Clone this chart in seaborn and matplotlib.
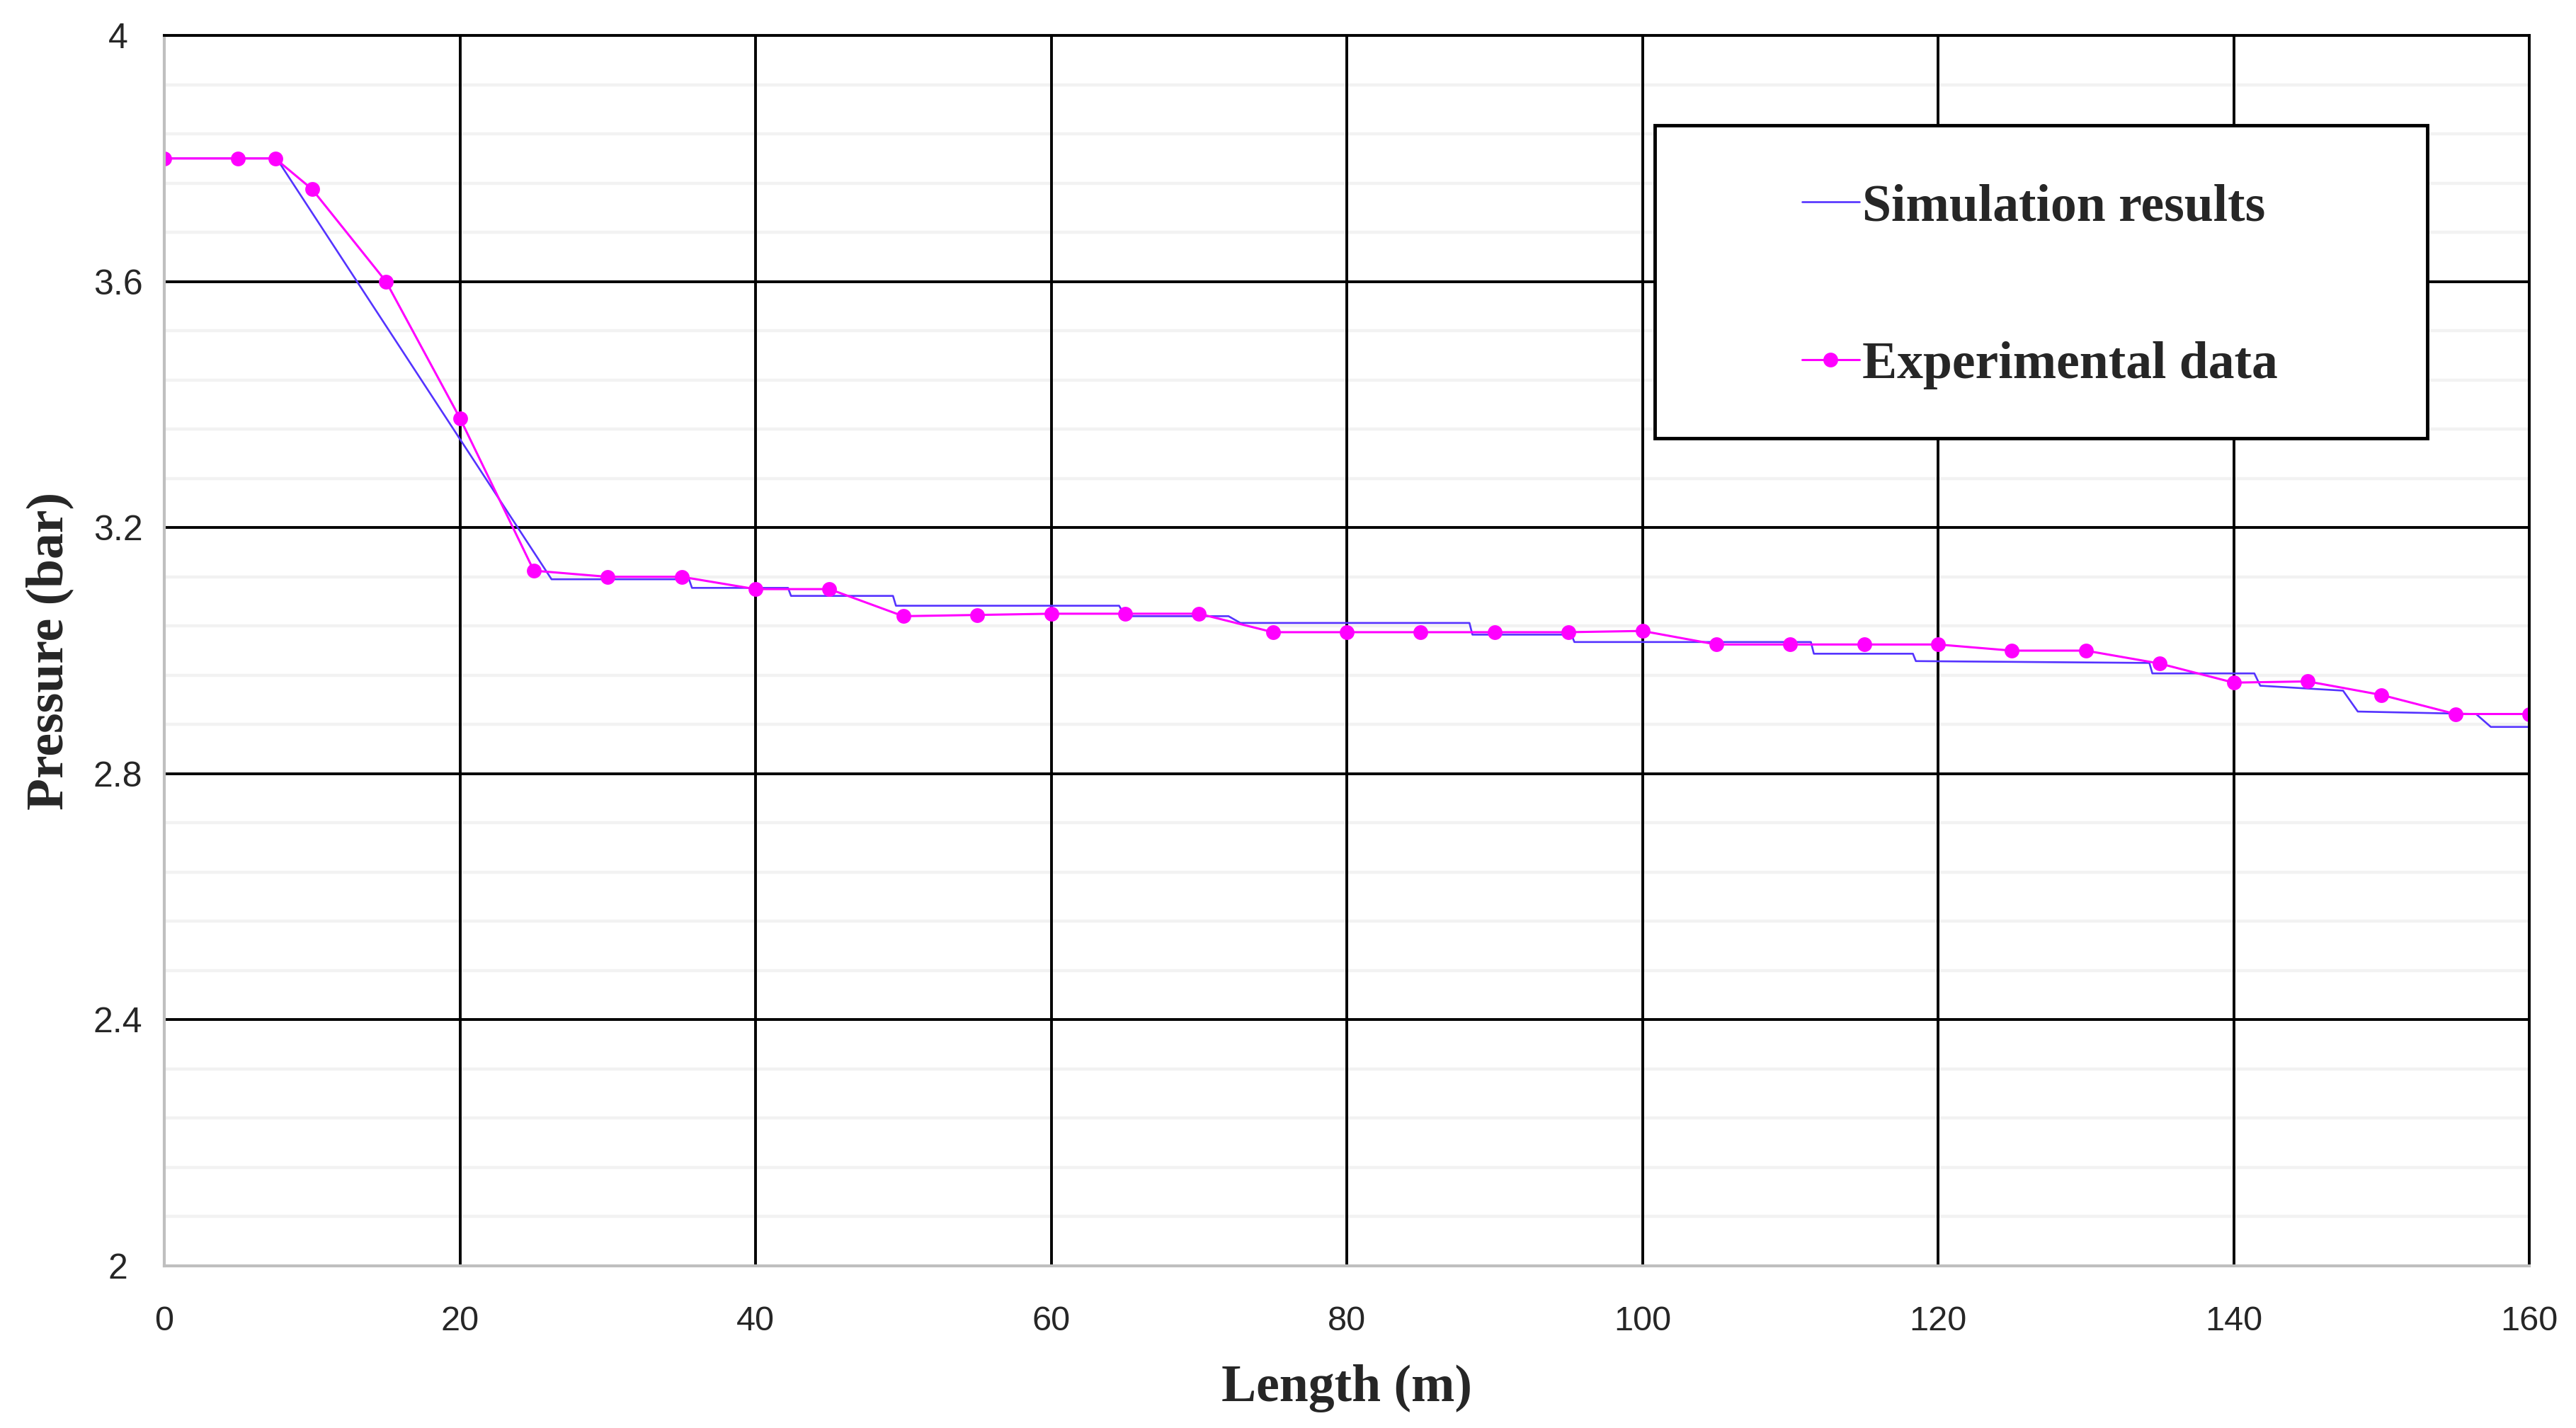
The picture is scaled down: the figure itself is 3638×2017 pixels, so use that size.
import pandas as pd
import seaborn as sns
import matplotlib.pyplot as plt
from matplotlib.ticker import MultipleLocator
from matplotlib.patches import Rectangle

# simulation (blue, stepped)
sim_x = [0, 7.6, 26.2, 35.5, 35.7, 42.2, 42.4, 49.3, 49.5, 64.6, 65.0, 72.0, 72.8,
         88.3, 88.5, 95.2, 95.4, 111.4, 111.6, 118.3, 118.5, 134.3, 134.5,
         141.4, 141.8, 147.4, 148.4, 156.4, 157.4, 160]
sim_y = [3.8, 3.8, 3.116, 3.116, 3.102, 3.102, 3.089, 3.089, 3.073, 3.073, 3.056, 3.056, 3.045,
         3.045, 3.026, 3.026, 3.014, 3.014, 2.995, 2.995, 2.983, 2.980, 2.963,
         2.963, 2.943, 2.935, 2.901, 2.897, 2.876, 2.876]

# experimental (magenta, markers)
exp_x = [0, 5, 7.5, 10, 15, 20, 25, 30, 35, 40, 45, 50, 55, 60, 65, 70, 75, 80,
         85, 90, 95, 100, 105, 110, 115, 120, 125, 130, 135, 140, 145, 150, 155, 160]
exp_y = [3.8, 3.8, 3.8, 3.75, 3.6, 3.378, 3.13, 3.12, 3.12, 3.10, 3.10, 3.056, 3.058, 3.06,
         3.06, 3.06, 3.03, 3.03, 3.03, 3.03, 3.03, 3.032, 3.01, 3.01, 3.01, 3.01, 3.0,
         3.0, 2.979, 2.948, 2.95, 2.928, 2.897, 2.897]

sim = pd.DataFrame({'Length': sim_x, 'Pressure': sim_y})
exp = pd.DataFrame({'Length': exp_x, 'Pressure': exp_y})

sns.set_style("white")
plt.rcParams['font.family'] = ['Liberation Sans', 'DejaVu Sans']

fig = plt.figure(figsize=(36.38, 20.17), dpi=100)
ax = fig.add_axes([232 / 3638, 1 - 1788 / 2017, (3572 - 232) / 3638, (1788 - 50) / 2017])

sns.lineplot(data=sim, x='Length', y='Pressure', ax=ax, color='#5533FF', linewidth=1.9,
             sort=False, estimator=None, label='Simulation results')
sns.lineplot(data=exp, x='Length', y='Pressure', ax=ax, color='#FF00FF', linewidth=2.2,
             marker='o', markersize=15, markeredgewidth=0, sort=False, estimator=None,
             label='Experimental data')

ax.set_xlim(0, 160)
ax.set_ylim(2, 4)
ax.xaxis.set_major_locator(MultipleLocator(20))
ax.yaxis.set_major_locator(MultipleLocator(0.4))
ax.yaxis.set_minor_locator(MultipleLocator(0.08))
ax.yaxis.set_major_formatter(plt.FuncFormatter(lambda v, p: f'{v:g}'))

ax.grid(True, which='major', axis='both', color='black', linewidth=2.8)
ax.grid(True, which='minor', axis='y', color='#F2F2F2', linewidth=3.2)
ax.xaxis.set_zorder(0.5)
ax.yaxis.set_zorder(0.4)
ax.tick_params(which='both', length=0)
ax.tick_params(axis='x', pad=40, labelsize=35)
ax.tick_params(axis='y', pad=47, labelsize=36)
for t in ax.get_yticklabels():
    t.set_horizontalalignment('center')

for s in ['left', 'bottom']:
    ax.spines[s].set_color('#BFBFBF')
    ax.spines[s].set_linewidth(3)
for s in ['top', 'right']:
    ax.spines[s].set_color('black')
    ax.spines[s].set_linewidth(2.8)

serif = ['Liberation Serif', 'DejaVu Serif']
ax.set_xlabel('Length (m)', fontsize=53, fontweight='bold', family=serif, labelpad=28)
ax.set_ylabel('Pressure (bar)', fontsize=53, fontweight='bold', family=serif, labelpad=20)

# legend box
box = Rectangle((0.6302, 0.6726), 0.957 - 0.6302, 0.9271 - 0.6726, transform=ax.transAxes,
                facecolor='white', edgecolor='black', linewidth=3.5, zorder=3)
ax.add_patch(box)
leg = ax.legend(loc='center left', bbox_to_anchor=(0.6925, 0.796), frameon=False,
                prop={'family': serif, 'weight': 'bold', 'size': 53},
                handlelength=1.1, handletextpad=0.05, labelspacing=2.1,
                borderpad=0, borderaxespad=0)
leg.set_zorder(4)

fig.savefig('out.png', dpi=100)
